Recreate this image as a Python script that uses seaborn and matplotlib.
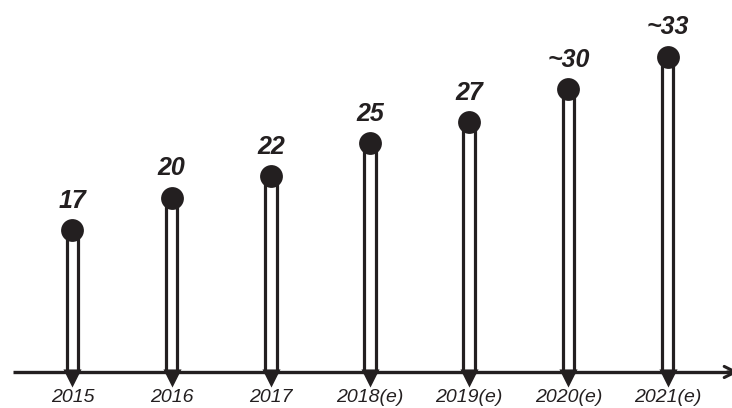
import matplotlib
matplotlib.use("Agg")
import matplotlib.pyplot as plt
import seaborn as sns
import pandas as pd
import numpy as np

years = ["2015", "2016", "2017", "2018(e)", "2019(e)", "2020(e)", "2021(e)"]
values = [17, 20, 22, 25, 27, 30, 33]
value_labels = ["17", "20", "22", "25", "27", "~30", "~33"]

BASE = 3.94  # value level where the drawn axis line sits
INK = "#231f20"

sns.set_theme(style="white")
plt.rcParams["font.family"] = ["Liberation Sans", "DejaVu Sans"]

df = pd.DataFrame({"year": years, "value": values})
df["height"] = df["value"] - BASE

fig = plt.figure(figsize=(7.32, 4.08), dpi=100)
ax = fig.add_axes([0, 0, 1, 1])

sns.barplot(data=df, x="year", y="height", bottom=BASE, color="white",
            edgecolor=INK, linewidth=2.3, width=0.115, ax=ax, zorder=2)
for p in ax.patches:
    p.set_facecolor("white")

xs = np.arange(len(years))
sns.scatterplot(x=xs, y=values, s=270, color=INK, edgecolor=INK,
                linewidth=0, ax=ax, zorder=4, legend=False)

for x, v, lab in zip(xs, values, value_labels):
    ax.annotate(lab, (x, v), xytext=(0, 16), textcoords="offset points",
                ha="center", va="baseline", fontsize=18, fontweight="bold",
                fontstyle="italic", color=INK)

# axis line
ax.plot([-0.6, 6.64], [BASE, BASE], color=INK, lw=2.4, zorder=3,
        solid_capstyle="butt")
# arrow tip at right edge (partly cut off)
ax.annotate("", xy=(1.013, BASE), xycoords=("axes fraction", "data"),
            xytext=(0.99, BASE), textcoords=("axes fraction", "data"),
            arrowprops=dict(arrowstyle="->", color=INK, lw=2.2,
                            mutation_scale=20))
# triangles under the axis
sns.scatterplot(x=xs, y=[BASE - 0.55] * len(xs), marker="v", s=170,
                color=INK, linewidth=0, ax=ax, zorder=3, legend=False)

trans = ax.get_xaxis_transform()
for x, yr in zip(xs, years):
    ax.text(x, 1.5 / 408, yr, transform=trans, ha="center", va="bottom",
            fontsize=14, fontstyle="italic", color=INK)

ax.set_xlim(-0.731, 6.650)
ax.set_ylim(0.62, 38.22)
ax.axis("off")

fig.savefig("out.png", dpi=100)
